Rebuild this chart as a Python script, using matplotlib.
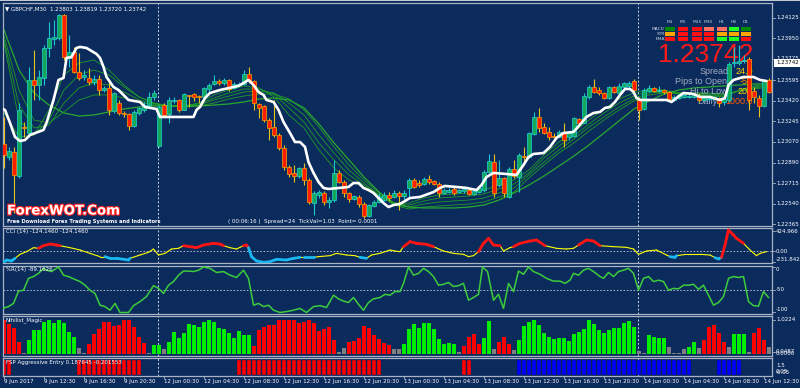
import matplotlib
matplotlib.use("Agg")
import matplotlib.pyplot as plt
import matplotlib.patheffects as pe
from matplotlib.patches import Rectangle

# ---------------- data ----------------
bar_open = [
 1.23049, 1.22938, 1.22981, 1.22776, 1.23194, 1.23143, 1.23596, 1.23553, 1.23613, 1.23869,
 1.23946, 1.23955, 1.24151, 1.23784, 1.23835, 1.23664, 1.23621, 1.23613, 1.23579, 1.23604,
 1.23510, 1.23528, 1.23331, 1.23399, 1.23314, 1.23305, 1.23203, 1.23314, 1.23340, 1.23382,
 1.23451, 1.23032, 1.23382, 1.23305, 1.23416, 1.23425, 1.23340, 1.23468, 1.23476, 1.23459,
 1.23451, 1.23519, 1.23562, 1.23587, 1.23570, 1.23596, 1.23528, 1.23553, 1.23562, 1.23647,
 1.23587, 1.23391, 1.23374, 1.23254, 1.23194, 1.23126, 1.23015, 1.22853, 1.22802, 1.22776,
 1.22844, 1.22742, 1.22545, 1.22614, 1.22631, 1.22554, 1.22571, 1.22802, 1.22725, 1.22631,
 1.22580, 1.22597, 1.22537, 1.22434, 1.22520, 1.22554, 1.22571, 1.22614, 1.22597, 1.22631,
 1.22605, 1.22674, 1.22742, 1.22716, 1.22708, 1.22750, 1.22733, 1.22708, 1.22631, 1.22639,
 1.22665, 1.22639, 1.22648, 1.22656, 1.22622, 1.22639, 1.22656, 1.22810, 1.22895, 1.22699,
 1.22759, 1.22597, 1.22836, 1.22767, 1.22947, 1.22938, 1.23135, 1.23280, 1.23194, 1.23152,
 1.23118, 1.23109, 1.23152, 1.23109, 1.23118, 1.23263, 1.23229, 1.23451, 1.23536, 1.23510,
 1.23485, 1.23442, 1.23536, 1.23485, 1.23536, 1.23545, 1.23587, 1.23425, 1.23348, 1.23502,
 1.23528, 1.23502, 1.23510, 1.23493, 1.23425, 1.23442, 1.23451, 1.23451, 1.23451, 1.23459,
 1.23425, 1.23434, 1.23434, 1.23442, 1.23408, 1.23425, 1.23741, 1.23741, 1.23758, 1.23775,
 1.23502, 1.23442, 1.23374, 1.23596]
bar_high = [
 1.23280, 1.23024, 1.23024, 1.23399, 1.23237, 1.23707, 1.23852, 1.23681, 1.23895, 1.24091,
 1.24108, 1.24159, 1.24159, 1.23980, 1.23878, 1.23826, 1.23681, 1.23698, 1.23639, 1.23639,
 1.23545, 1.23596, 1.23493, 1.23425, 1.23331, 1.23314, 1.23340, 1.23365, 1.23408, 1.23493,
 1.23510, 1.23382, 1.23399, 1.23451, 1.23451, 1.23434, 1.23485, 1.23468, 1.23485, 1.23468,
 1.23536, 1.23570, 1.23639, 1.23604, 1.23613, 1.23604, 1.23579, 1.23579, 1.23681, 1.23707,
 1.23596, 1.23399, 1.23382, 1.23271, 1.23425, 1.23143, 1.23041, 1.22870, 1.22870, 1.22853,
 1.22887, 1.22759, 1.22648, 1.22656, 1.22648, 1.22597, 1.22913, 1.22827, 1.22742, 1.22639,
 1.22614, 1.22614, 1.22554, 1.22537, 1.22571, 1.22631, 1.22639, 1.22639, 1.22656, 1.22648,
 1.22656, 1.22759, 1.22759, 1.22742, 1.22767, 1.22785, 1.22742, 1.22725, 1.22674, 1.22674,
 1.22682, 1.22665, 1.22674, 1.22674, 1.22665, 1.22691, 1.22827, 1.22964, 1.22964, 1.22913,
 1.22767, 1.22853, 1.22913, 1.22972, 1.23024, 1.23152, 1.23323, 1.23357, 1.23229, 1.23194,
 1.23143, 1.23169, 1.23229, 1.23152, 1.23280, 1.23271, 1.23485, 1.23553, 1.23604, 1.23536,
 1.23493, 1.23545, 1.23545, 1.23570, 1.23579, 1.23587, 1.23604, 1.23451, 1.23528, 1.23553,
 1.23536, 1.23545, 1.23519, 1.23502, 1.23468, 1.23476, 1.23485, 1.23476, 1.23476, 1.23485,
 1.23451, 1.23459, 1.23459, 1.23451, 1.23451, 1.23750, 1.23878, 1.23895, 1.23809, 1.23792,
 1.23536, 1.23468, 1.23596, 1.23613]
bar_low = [
 1.22844, 1.22913, 1.22460, 1.22759, 1.23109, 1.23109, 1.23425, 1.23425, 1.23553, 1.23792,
 1.23895, 1.23937, 1.23767, 1.23707, 1.23656, 1.23596, 1.23596, 1.23553, 1.23553, 1.23468,
 1.23493, 1.23297, 1.23314, 1.23297, 1.23280, 1.23169, 1.23194, 1.23297, 1.23323, 1.23365,
 1.23425, 1.23024, 1.23280, 1.23229, 1.23399, 1.23323, 1.23340, 1.23365, 1.23416, 1.23399,
 1.23442, 1.23493, 1.23553, 1.23553, 1.23553, 1.23502, 1.23519, 1.23545, 1.23553, 1.23570,
 1.23340, 1.23271, 1.23237, 1.23083, 1.23109, 1.22998, 1.22827, 1.22767, 1.22725, 1.22759,
 1.22699, 1.22537, 1.22443, 1.22588, 1.22528, 1.22503, 1.22554, 1.22716, 1.22597, 1.22554,
 1.22571, 1.22511, 1.22417, 1.22426, 1.22511, 1.22545, 1.22563, 1.22563, 1.22588, 1.22486,
 1.22571, 1.22597, 1.22674, 1.22682, 1.22699, 1.22708, 1.22699, 1.22597, 1.22622, 1.22631,
 1.22614, 1.22631, 1.22631, 1.22614, 1.22614, 1.22631, 1.22639, 1.22802, 1.22597, 1.22682,
 1.22597, 1.22588, 1.22759, 1.22639, 1.22887, 1.22930, 1.23126, 1.23152, 1.23135, 1.23083,
 1.23101, 1.23109, 1.23024, 1.23083, 1.23109, 1.23220, 1.23229, 1.23434, 1.23485, 1.23468,
 1.23434, 1.23434, 1.23485, 1.23468, 1.23528, 1.23528, 1.23493, 1.23254, 1.23340, 1.23493,
 1.23493, 1.23493, 1.23476, 1.23425, 1.23416, 1.23434, 1.23442, 1.23442, 1.23442, 1.23408,
 1.23416, 1.23416, 1.23425, 1.23365, 1.23382, 1.23408, 1.23707, 1.23724, 1.23741, 1.23340,
 1.23399, 1.23280, 1.23365, 1.23485]
bar_close = [
 1.22955, 1.22990, 1.22785, 1.23340, 1.23186, 1.23596, 1.23553, 1.23621, 1.23869, 1.23955,
 1.23963, 1.24151, 1.23792, 1.23835, 1.23664, 1.23613, 1.23639, 1.23579, 1.23604, 1.23510,
 1.23528, 1.23340, 1.23485, 1.23314, 1.23305, 1.23203, 1.23323, 1.23357, 1.23382, 1.23451,
 1.23485, 1.23365, 1.23297, 1.23425, 1.23425, 1.23340, 1.23476, 1.23459, 1.23451, 1.23451,
 1.23528, 1.23553, 1.23587, 1.23570, 1.23596, 1.23519, 1.23562, 1.23562, 1.23647, 1.23587,
 1.23399, 1.23357, 1.23254, 1.23186, 1.23126, 1.23015, 1.22853, 1.22793, 1.22776, 1.22844,
 1.22742, 1.22554, 1.22631, 1.22639, 1.22554, 1.22571, 1.22802, 1.22725, 1.22631, 1.22580,
 1.22605, 1.22537, 1.22434, 1.22528, 1.22554, 1.22597, 1.22614, 1.22588, 1.22631, 1.22605,
 1.22631, 1.22742, 1.22682, 1.22699, 1.22750, 1.22725, 1.22708, 1.22631, 1.22656, 1.22656,
 1.22631, 1.22656, 1.22665, 1.22622, 1.22648, 1.22674, 1.22810, 1.22904, 1.22631, 1.22759,
 1.22631, 1.22836, 1.22776, 1.22955, 1.22938, 1.23143, 1.23280, 1.23186, 1.23143, 1.23109,
 1.23109, 1.23152, 1.23083, 1.23143, 1.23271, 1.23229, 1.23459, 1.23536, 1.23493, 1.23485,
 1.23442, 1.23536, 1.23493, 1.23545, 1.23570, 1.23570, 1.23510, 1.23340, 1.23510, 1.23528,
 1.23502, 1.23510, 1.23493, 1.23434, 1.23451, 1.23468, 1.23468, 1.23459, 1.23468, 1.23425,
 1.23442, 1.23442, 1.23451, 1.23399, 1.23434, 1.23732, 1.23750, 1.23758, 1.23767, 1.23425,
 1.23451, 1.23374, 1.23587, 1.23493]

# white trend line (bar position, price)
trend_bar = [
 -0.8, 0.2, 1.2, 2.2, 3.2, 4.2, 5.2, 7.9, 8.5, 9.9,
 10.9, 11.9, 12.5, 13.5, 14.5, 15.2, 16.5, 18.5, 19.2, 19.9,
 20.5, 21.9, 22.9, 23.9, 24.9, 27.2, 28.2, 30.5, 31.2, 37.9,
 38.5, 39.2, 40.2, 41.2, 43.2, 45.9, 46.9, 47.9, 48.9, 49.9,
 50.9, 51.9, 52.5, 53.9, 54.9, 55.9, 57.2, 58.2, 59.2, 60.2,
 60.9, 61.9, 62.9, 63.9, 64.9, 68.9, 69.9, 70.9, 71.9, 72.9,
 73.9, 74.9, 75.9, 76.9, 77.9, 79.2, 81.2, 83.2, 85.9, 87.2,
 88.2, 90.5, 92.5, 94.5, 95.5, 96.5, 97.9, 100.5, 102.5, 103.9,
 104.9, 105.9, 107.9, 109.2, 110.5, 111.9, 113.9, 115.5, 116.5, 117.9,
 119.2, 120.2, 121.2, 122.2, 123.2, 124.2, 125.2, 125.9, 126.5, 127.2,
 132.5, 133.5, 134.5, 135.9, 137.9, 139.2, 141.2, 143.2, 144.2, 144.9,
 145.9, 147.9, 149.9, 151.2, 152.5]
trend_price = [
 1.23357, 1.23340, 1.23229, 1.23109, 1.23075, 1.23083, 1.23126, 1.23169, 1.23229, 1.23425,
 1.23596, 1.23613, 1.23784, 1.23792, 1.23869, 1.23878, 1.23869, 1.23818, 1.23784, 1.23707,
 1.23621, 1.23536, 1.23510, 1.23468, 1.23425, 1.23408, 1.23365, 1.23348, 1.23280, 1.23280,
 1.23340, 1.23365, 1.23442, 1.23485, 1.23510, 1.23536, 1.23545, 1.23570, 1.23596, 1.23553,
 1.23493, 1.23468, 1.23425, 1.23408, 1.23340, 1.23237, 1.23143, 1.23066, 1.23066, 1.23024,
 1.22895, 1.22802, 1.22725, 1.22674, 1.22665, 1.22682, 1.22716, 1.22716, 1.22674, 1.22656,
 1.22631, 1.22588, 1.22545, 1.22511, 1.22528, 1.22537, 1.22588, 1.22597, 1.22639, 1.22674,
 1.22691, 1.22682, 1.22674, 1.22656, 1.22699, 1.22767, 1.22802, 1.22793, 1.22785, 1.22870,
 1.22938, 1.22964, 1.22972, 1.23024, 1.23101, 1.23143, 1.23152, 1.23229, 1.23280, 1.23314,
 1.23323, 1.23357, 1.23365, 1.23408, 1.23468, 1.23519, 1.23519, 1.23493, 1.23442, 1.23425,
 1.23425, 1.23408, 1.23442, 1.23485, 1.23476, 1.23451, 1.23451, 1.23425, 1.23442, 1.23553,
 1.23596, 1.23621, 1.23621, 1.23596, 1.23587]

# green moving-average ribbon, sampled every 3 bars
ribbon_bar = list(range(0, 154, 3))
ribbon_1 = [
 1.23314, 1.23109, 1.23126, 1.23340, 1.23639, 1.23741, 1.23767, 1.23681, 1.23553, 1.23451,
 1.23399, 1.23374, 1.23374, 1.23399, 1.23468, 1.23510, 1.23545, 1.23528, 1.23451, 1.23297,
 1.23186, 1.22998, 1.22844, 1.22742, 1.22682, 1.22614, 1.22545, 1.22545, 1.22588, 1.22614,
 1.22622, 1.22631, 1.22656, 1.22699, 1.22742, 1.22827, 1.22955, 1.23066, 1.23152, 1.23254,
 1.23348, 1.23434, 1.23485, 1.23519, 1.23510, 1.23476, 1.23468, 1.23459, 1.23451, 1.23510,
 1.23545, 1.23562]
ribbon_2 = [
 1.23912, 1.23254, 1.23126, 1.23254, 1.23510, 1.23639, 1.23681, 1.23639, 1.23536, 1.23451,
 1.23399, 1.23374, 1.23374, 1.23391, 1.23442, 1.23485, 1.23519, 1.23519, 1.23476, 1.23357,
 1.23237, 1.23058, 1.22913, 1.22785, 1.22699, 1.22614, 1.22537, 1.22528, 1.22563, 1.22588,
 1.22597, 1.22605, 1.22622, 1.22665, 1.22708, 1.22802, 1.22930, 1.23032, 1.23118, 1.23220,
 1.23314, 1.23399, 1.23459, 1.23502, 1.23502, 1.23485, 1.23476, 1.23468, 1.23459, 1.23502,
 1.23536, 1.23553]
ribbon_3 = [
 1.23937, 1.23382, 1.23186, 1.23212, 1.23399, 1.23528, 1.23570, 1.23553, 1.23493, 1.23425,
 1.23391, 1.23374, 1.23365, 1.23382, 1.23425, 1.23459, 1.23493, 1.23502, 1.23485, 1.23399,
 1.23297, 1.23126, 1.22972, 1.22827, 1.22716, 1.22614, 1.22528, 1.22511, 1.22537, 1.22554,
 1.22563, 1.22571, 1.22588, 1.22631, 1.22674, 1.22785, 1.22895, 1.22998, 1.23092, 1.23194,
 1.23280, 1.23365, 1.23434, 1.23485, 1.23493, 1.23485, 1.23485, 1.23476, 1.23468, 1.23502,
 1.23528, 1.23545]
ribbon_4 = [
 1.23972, 1.23510, 1.23254, 1.23229, 1.23323, 1.23425, 1.23468, 1.23468, 1.23442, 1.23408,
 1.23382, 1.23374, 1.23365, 1.23374, 1.23399, 1.23434, 1.23459, 1.23476, 1.23476, 1.23434,
 1.23340, 1.23194, 1.23024, 1.22870, 1.22742, 1.22631, 1.22528, 1.22494, 1.22511, 1.22520,
 1.22528, 1.22537, 1.22554, 1.22597, 1.22639, 1.22759, 1.22870, 1.22972, 1.23058, 1.23160,
 1.23254, 1.23340, 1.23416, 1.23468, 1.23485, 1.23476, 1.23485, 1.23485, 1.23476, 1.23502,
 1.23519, 1.23536]
ribbon_slow = [
 1.24023, 1.23681, 1.23485, 1.23382, 1.23314, 1.23288, 1.23297, 1.23323, 1.23348, 1.23365,
 1.23374, 1.23374, 1.23374, 1.23374, 1.23382, 1.23391, 1.23408, 1.23434, 1.23442, 1.23425,
 1.23357, 1.23220, 1.23058, 1.22913, 1.22767, 1.22639, 1.22545, 1.22511, 1.22503, 1.22503,
 1.22503, 1.22511, 1.22528, 1.22571, 1.22631, 1.22699, 1.22776, 1.22861, 1.22947, 1.23041,
 1.23143, 1.23246, 1.23348, 1.23416, 1.23476, 1.23510, 1.23528, 1.23536, 1.23545, 1.23553,
 1.23562, 1.23562]

# CCI(14): sampled points and colour state (1 above, 0 neutral, -1 below)
cci_bar = [
 -0.3, 0.5, 1.5, 2.2, 3.2, 4.5, 5.9, 6.9, 7.9, 9.2,
 10.5, 11.2, 13.2, 15.2, 17.2, 19.2, 20.2, 21.2, 22.5, 24.9,
 25.2, 27.2, 28.9, 29.9, 30.9, 32.2, 33.5, 34.9, 35.9, 37.2,
 38.5, 39.9, 41.9, 43.2, 43.9, 45.2, 46.5, 47.9, 48.5, 48.9,
 49.5, 50.5, 51.9, 53.2, 54.5, 56.5, 57.9, 59.2, 59.9, 61.9,
 62.9, 65.2, 66.5, 68.5, 70.2, 71.2, 72.5, 73.5, 75.2, 77.2,
 78.2, 79.2, 79.9, 81.2, 82.5, 84.5, 85.9, 87.9, 89.9, 91.9,
 92.9, 93.9, 94.9, 95.9, 96.9, 97.9, 99.2, 99.9, 101.2, 101.9,
 103.2, 105.2, 106.5, 108.2, 110.5, 112.5, 113.9, 114.9, 116.5, 117.9,
 119.2, 121.9, 124.5, 125.9, 126.9, 128.5, 130.5, 132.5, 133.2, 134.2,
 134.5, 136.5, 139.2, 141.2, 142.2, 142.9, 143.5, 144.2, 144.9, 145.9,
 146.5, 147.9, 149.2, 150.5, 151.2, 152.5]
cci_val = [
 -262, -191, -212, -156, -71, -14, 71, 57, 113, 149,
 127, 113, 71, 21, -50, -120, -120, -156, -156, -191,
 -156, -85, -28, 42, -85, -50, 42, 57, 113, 92,
 71, 127, 163, 149, 113, 71, 42, 113, 127, 71,
 -120, -212, -241, -227, -177, -191, -156, -135, -135, -135,
 -120, -99, -50, -85, -99, -135, -156, -85, -50, 21,
 0, -14, 92, 198, 163, 142, 92, 0, -50, -71,
 -120, -99, -14, 163, 269, 127, 113, 0, 71, 92,
 163, 212, 234, 113, 57, 42, 57, 127, 234, 212,
 113, 92, 78, 42, -71, 0, 21, -85, -120, -135,
 -99, -71, -71, -85, -142, -170, -135, 127, 446, 340,
 269, 163, 21, -99, -50, -14]
cci_state = [
 -1, -1, -1, 0, 0, 0, 0, 1, 1, 1,
 1, 0, 0, 0, 0, 0, -1, -1, -1, -1,
 0, 0, 0, 0, 0, 0, 0, 0, 1, 1,
 1, 1, 1, 1, 0, 0, 0, 1, 1, -1,
 -1, -1, -1, -1, -1, -1, -1, 0, -1, 0,
 0, 0, 0, 0, 0, -1, 0, 0, 0, 0,
 0, 0, 1, 1, 1, 1, 0, 0, 0, 0,
 0, 0, 1, 1, 1, 1, 0, 0, 0, 1,
 1, 1, 1, 0, 0, 0, 0, 1, 1, 1,
 0, 0, 0, 0, 0, 0, 0, 0, -1, -1,
 0, 0, 0, 0, -1, -1, 1, 1, 1, 1,
 1, 0, 0, 0, 0, 0]

# Williams %R(14)
wpr_bar = [
 -0.3, 0.9, 1.9, 2.9, 3.9, 4.9, 5.9, 6.9, 7.9, 8.5,
 9.5, 10.9, 11.9, 12.9, 13.9, 15.2, 16.2, 17.2, 18.2, 19.2,
 20.2, 21.2, 22.2, 23.2, 24.9, 25.9, 27.2, 28.5, 29.9, 30.9,
 31.9, 32.9, 33.9, 34.9, 35.9, 36.9, 37.9, 38.9, 39.9, 41.2,
 42.5, 43.9, 45.2, 46.5, 47.9, 48.9, 49.9, 50.9, 51.9, 52.9,
 53.9, 55.2, 56.5, 57.9, 59.2, 60.5, 61.9, 63.2, 64.5, 65.9,
 66.9, 67.9, 68.9, 69.9, 70.9, 71.9, 72.9, 73.9, 75.2, 76.2,
 77.2, 78.2, 79.2, 79.9, 80.9, 81.9, 82.9, 83.9, 84.9, 85.9,
 86.9, 87.9, 88.9, 89.9, 90.9, 91.9, 92.9, 93.9, 94.9, 95.7,
 96.7, 97.9, 98.9, 99.9, 100.9, 101.9, 102.9, 103.9, 104.9, 105.9,
 107.2, 108.5, 109.9, 111.2, 112.2, 113.2, 113.9, 114.9, 115.9, 116.9,
 117.9, 119.2, 119.9, 120.9, 121.9, 122.9, 123.9, 124.9, 125.9, 126.9,
 127.9, 128.9, 129.9, 130.9, 131.9, 132.9, 133.9, 134.9, 135.9, 136.9,
 137.9, 138.9, 139.9, 141.9, 142.9, 143.9, 144.9, 145.9, 146.9, 147.9,
 148.9, 149.9, 150.9, 151.9, 152.9]
wpr_val = [
 -91, -87, -80, -53, -51, -25, -21, -14, -3, -7,
 -10, 0, -18, -21, -26, -32, -40, -51, -58, -84,
 -87, -95, -80, -100, -100, -85, -76, -65, -41, -47,
 -58, -40, -32, -18, -9, -9, -10, -7, 0, -3,
 -12, -10, -18, -23, -7, -25, -84, -80, -87, -84,
 -95, -100, -98, -95, -91, -100, -87, -85, -89, -62,
 -70, -75, -78, -67, -82, -95, -78, -70, -67, -60,
 -62, -54, -54, -36, 0, -18, -14, -3, -10, -21,
 -40, -38, -34, -43, -41, -36, -73, -67, -60, 0,
 -10, -73, -60, -91, -36, -54, -9, -16, 0, -10,
 -16, -25, -31, -31, -36, -29, -14, -18, -7, -3,
 -10, -21, -25, -12, -21, -10, -7, -3, -14, -51,
 -25, -21, -32, -29, -32, -51, -47, -48, -40, -40,
 -38, -49, -40, -84, -78, -65, -25, -21, -23, -21,
 -76, -85, -86, -54, -67]

# Nihilist_Magic histogram (value per bar, state 1 up / -1 down / 0 flat)
nih_val = [
 1.01, 0.88, 0.76, 0.36, 0.03, 0.41, 0.71, 0.70, 0.94, 1.01,
 0.91, 1.01, 0.91, 0.66, 0.51, 0.16, 0.01, 0.29, 0.58, 0.74,
 0.94, 0.96, 0.83, 0.86, 1.02, 1.01, 0.81, 0.51, 0.31, 0.03,
 0.26, 0.26, 0.13, 0.36, 0.64, 0.48, 0.61, 0.90, 0.86, 0.81,
 0.96, 1.02, 0.96, 0.76, 0.74, 0.61, 0.46, 0.68, 0.56, 0.56,
 0.24, 0.70, 0.81, 0.86, 0.86, 1.01, 1.02, 1.02, 1.02, 0.91,
 0.94, 1.02, 0.91, 0.68, 0.74, 0.81, 0.41, 0.06, 0.16, 0.36,
 0.38, 0.48, 0.84, 0.78, 0.56, 0.43, 0.31, 0.26, 0.14, 0.14,
 0.28, 0.73, 0.90, 0.76, 0.93, 0.93, 0.73, 0.43, 0.28, 0.33,
 0.28, 0.04, 0.24, 0.49, 0.58, 0.29, 0.46, 0.98, 0.14, 0.34,
 0.49, 0.29, 0.11, 0.41, 0.84, 0.94, 1.02, 0.86, 0.61, 0.51,
 0.44, 0.48, 0.46, 0.38, 0.58, 0.64, 0.74, 1.01, 0.90, 0.70,
 0.61, 0.70, 0.76, 0.78, 0.91, 0.98, 0.81, 0.08, 0.03, 0.56,
 0.51, 0.48, 0.46, 0.21, 0.03, 0.03, 0.14, 0.21, 0.36, 0.18,
 0.41, 0.80, 0.85, 0.62, 0.35, 0.20, 0.60, 0.60, 0.60, 0.05,
 0.63, 0.76, 0.41, 0.20]
nih_state = [
 -1, -1, -1, -1, 0, 1, 1, 1, 1, 1,
 1, 1, 1, 1, 1, 0, 0, -1, -1, -1,
 -1, -1, -1, -1, -1, -1, -1, -1, -1, 0,
 1, 1, 0, 1, 1, 1, 1, 1, 1, 1,
 1, 1, 1, 1, 1, 1, 1, 1, 1, 1,
 -1, -1, -1, -1, -1, -1, -1, -1, -1, -1,
 -1, -1, -1, -1, -1, -1, -1, 0, 0, -1,
 -1, -1, -1, -1, -1, -1, -1, -1, 0, 0,
 1, 1, 1, 1, 1, 1, 1, 1, 1, 1,
 1, 0, -1, -1, -1, -1, 1, 1, 0, -1,
 -1, -1, 0, 1, 1, 1, 1, 1, 1, 1,
 1, 1, 1, 1, 1, 1, 1, 1, 1, 1,
 1, 1, 1, 1, 1, 1, 1, 0, 0, 1,
 1, 1, 1, 0, 0, 0, 0, 1, 1, 0,
 -1, -1, -1, -1, -1, 0, 1, 1, 1, 0,
 -1, -1, -1, 0]

# FSP Aggressive Entry signal per bar (1 sell/red, 2 buy/blue, 0 none)
fsp_state = [
 1, 1, 0, 0, 0, 0, 0, 0, 0, 0,
 0, 0, 0, 0, 0, 1, 1, 1, 1, 1,
 1, 1, 1, 1, 1, 1, 1, 1, 0, 0,
 0, 0, 0, 0, 0, 0, 0, 0, 0, 0,
 0, 0, 0, 0, 0, 0, 0, 1, 1, 1,
 1, 1, 1, 1, 1, 1, 1, 1, 1, 1,
 1, 1, 1, 1, 1, 1, 1, 1, 1, 1,
 1, 1, 1, 1, 1, 1, 0, 0, 0, 0,
 0, 0, 0, 0, 0, 0, 0, 0, 0, 0,
 0, 0, 1, 1, 0, 0, 0, 0, 0, 0,
 0, 0, 0, 2, 2, 2, 2, 2, 2, 2,
 2, 2, 2, 2, 2, 2, 2, 2, 2, 2,
 2, 2, 2, 2, 2, 2, 2, 2, 2, 2,
 2, 2, 2, 2, 2, 2, 2, 2, 0, 0,
 0, 0, 0, 2, 2, 2, 2, 2, 0, 0,
 0, 0, 0, 0]

time_label_bars = [0, 8, 16, 24, 32, 40, 48, 56, 64, 72, 80, 88, 96, 104, 112, 120, 128, 136, 144, 152]
time_labels = ["9 Jun 2017", "9 Jun 12:30", "9 Jun 16:30", "9 Jun 20:30", "12 Jun 00:30",
               "12 Jun 04:30", "12 Jun 08:30", "12 Jun 12:30", "12 Jun 16:30", "12 Jun 20:30",
               "13 Jun 00:30", "13 Jun 04:30", "13 Jun 08:30", "13 Jun 12:30", "13 Jun 16:30",
               "13 Jun 20:30", "14 Jun 00:30", "14 Jun 04:30", "14 Jun 08:30", "14 Jun 12:30"]
separator_bars = [31, 127]
price_ticks = [1.24125, 1.23950, 1.23775, 1.23595, 1.23420, 1.23245, 1.23070,
               1.22890, 1.22715, 1.22540, 1.22365]
last_price = 1.23742

dash_cols = ["M1", "M5", "M15", "M30", "H1", "H4", "D1"]
dash_rows = ["MACD", "STR", "EMA"]
dash_signal = [
    ["up", "dn", "dn", "wdn", "wdn", "sup", "up"],
    ["flat", "dn", "dn", "dn", "flat", "flat", "flat"],
    ["dn", "dn", "dn", "dn", "sup", "sup", "dn"],
]
info_labels = ["Spread", "Pips to Open", "Hi to Low", "Daily"]
info_values = ["24.0", "-57", "208", "1000.0"]

# ---------------- drawing ----------------
W, H = 800, 388
BG = "#0b2b5d"
FRAME = "#a9b3c3"
fig = plt.figure(figsize=(W / 100, H / 100), dpi=100)
fig.patch.set_facecolor(BG)
X0, X1 = 3, 772
n = len(bar_open)


def fx(x):
    return x / W


def fy(y):
    return 1 - y / H


def panel(top, bottom):
    ax = fig.add_axes([fx(X0), fy(bottom), (X1 - X0) / W, (bottom - top) / H])
    ax.set_facecolor(BG)
    for s in ax.spines.values():
        s.set_color(FRAME)
        s.set_linewidth(0.9)
    ax.set_xlim(-0.2, 153.6)
    ax.set_xticks([])
    ax.set_yticks([])
    for b in separator_bars:
        ax.axvline(b - 0.2, color="#d0d8e6", lw=0.7, ls=(0, (2, 2)), zorder=0.5)
    return ax


def rlabel(ax, y, s, va="center", tick=True, **kw):
    tr = ax.get_yaxis_transform()
    ax.text(1.005, y, s, transform=tr, ha="left", va=va, fontsize=4,
            color=kw.pop("color", "white"), clip_on=False, **kw)
    if tick:
        ax.plot([1.0, 1.004], [y, y], transform=tr, color=FRAME, lw=0.6, clip_on=False)


# top light strip
fig.add_artist(Rectangle((0, fy(1.2)), 1, 1.2 / H, transform=fig.transFigure,
                         fc="#c4cad4", ec="none"))

# ---- main price panel ----
ax = panel(3, 226)
ax.set_ylim(1.22349, 1.24253)

rib_c = "#1f9c26"
for rb in (ribbon_1, ribbon_2, ribbon_3, ribbon_4):
    ax.plot(ribbon_bar, rb, color=rib_c, lw=0.6, zorder=1)
ax.plot(ribbon_bar, ribbon_slow, color="#2aa82e", lw=0.9, zorder=1)

xs = list(range(n))
bull = [c >= o for o, c in zip(bar_open, bar_close)]
wick_col = ["#1ec8d2" if b else "#e6c41c" for b in bull]
ax.vlines(xs, bar_low, bar_high, colors=wick_col, lw=0.8, zorder=3)
bottoms = [min(o, c) for o, c in zip(bar_open, bar_close)]
heights = [max(abs(c - o), 0.00007) for o, c in zip(bar_open, bar_close)]
face = ["#13a85a" if b else "#ff1c00" for b in bull]
edge = ["#22d4d4" if b else "#ffa000" for b in bull]
ax.bar(xs, heights, bottom=bottoms, width=0.64, color=face, edgecolor=edge,
       linewidth=0.5, zorder=4)

ax.plot(trend_bar, trend_price, color="white", lw=1.9, zorder=5,
        solid_joinstyle="round", solid_capstyle="round")

for p in price_ticks:
    rlabel(ax, p, "%.5f" % p)
rlabel(ax, last_price, "%.5f" % last_price, tick=False, color="black",
       bbox=dict(boxstyle="square,pad=0.25", fc="white", ec="none"))

# big price and info block (behind candles)
ax.text(fx(658), fy(55), "%.5f" % last_price, transform=fig.transFigure, fontsize=19,
        color="#ff1a1a", family="Liberation Sans", ha="left", va="center", zorder=2)
info_x = [700, 675, 690, 697]
info_y = [72, 82, 91.5, 101]
info_vcol = ["#ffd200", "#ff8c00", "#ffd200", "#ff5a00"]
for lab, val, lx, ly, vc in zip(info_labels, info_values, info_x, info_y, info_vcol):
    ax.text(fx(lx), fy(ly), lab, transform=fig.transFigure, fontsize=6.5,
            color="#a3abbf", family="Liberation Sans", ha="left", va="center", zorder=2)
    ax.text(fx(753), fy(ly), val, transform=fig.transFigure, fontsize=6.5,
            color=vc, family="Liberation Sans", ha="right", va="center", zorder=2)

# dashboard
sig_col = {"up": "#008c00", "dn": "#ff1010", "wdn": "#ff7060", "sup": "#22ff22",
           "flat": "#ffa500"}
col_x = [670, 683, 697, 708.5, 722, 733.5, 746]
row_y = [29, 34, 39]
for cx, name in zip(col_x, dash_cols):
    fig.text(fx(cx), fy(22), name, fontsize=3.2, color="#c8d0e0", ha="center", va="center")
for ry, rname, sigs in zip(row_y, dash_rows, dash_signal):
    fig.text(fx(665), fy(ry), rname, fontsize=3.2, color="#c8d0e0", ha="right", va="center")
    for cx, sg in zip(col_x, sigs):
        fig.add_artist(Rectangle((fx(cx - 5), fy(ry + 1.6)), 10 / W, 3.2 / H,
                                 transform=fig.transFigure, fc=sig_col[sg], ec="none"))

fig.text(fx(5), fy(8.3), "\u25bc GBPCHF,M30  1.23803 1.23819 1.23720 1.23742",
         fontsize=4, color="white", ha="left", va="center")
fig.text(fx(7), fy(211), "ForexWOT.Com", fontsize=9.6, weight="bold", color="white",
         ha="left", va="center",
         path_effects=[pe.withStroke(linewidth=1.6, foreground="#ff2020")])
fig.text(fx(7), fy(222), "Free Download Forex Trading Systems and Indicators",
         fontsize=3.7, weight="bold", color="white", ha="left", va="center")
fig.text(fx(228), fy(221.5), "( 00:06:16 )  Spread=24  TickVal=1.03  Point= 0.0001",
         fontsize=4, color="white", ha="left", va="center")

# ---- CCI panel ----
axc = panel(228, 263)
axc.set_ylim(-255, 489)
axc.axhline(0, color="#c0c8d6", lw=0.6, ls=(0, (2, 2)), zorder=1)
cci_col = {1: "#ff1414", 0: "#ffff00", -1: "#1ab8f0"}
for k in range(len(cci_bar) - 1):
    st = cci_state[k]
    axc.plot(cci_bar[k:k + 2], cci_val[k:k + 2], color=cci_col[st],
             lw=0.8 if st == 0 else 2.0, solid_capstyle="round", zorder=3 if st else 2)
rlabel(axc, 424.966, "424.966")
rlabel(axc, 0, "0.00")
rlabel(axc, -231.8426, "-231.8426", va="bottom")
fig.text(fx(6), fy(231.5), "CCI (14) -124.1460 -124.1460", fontsize=4, color="white",
         ha="left", va="center")

# ---- %R panel ----
axr = panel(266, 314)
axr.set_ylim(-103.3, 2.2)
axr.axhline(-50, color="#c0c8d6", lw=0.6, ls=(0, (2, 2)), zorder=1)
axr.plot(wpr_bar, wpr_val, color="#3ccc3c", lw=1.1, zorder=3)
rlabel(axr, 0, "0", va="top")
rlabel(axr, -50, "-50")
rlabel(axr, -100, "-100", va="bottom")
fig.text(fx(6), fy(270), "%R(14) -89.1626", fontsize=4, color="white",
         ha="left", va="center")

# ---- Nihilist panel ----
axn = panel(316, 356)
axn.set_ylim(-0.075, 1.13)
nih_col = {1: "#00ee00", -1: "#ff0000", 0: "#808080"}
axn.bar(xs, nih_val, width=0.78, color=[nih_col[s] for s in nih_state], linewidth=0,
        zorder=2)
rlabel(axn, 1.0224, "1.0224")
rlabel(axn, 0.0487, "0.0487")
rlabel(axn, 0.0, "0.0000", tick=False)
fig.text(fx(6), fy(320), "Nihilist_Magic", fontsize=4, color="white", ha="left",
         va="center")

# ---- FSP panel ----
axf = panel(358, 376)
axf.set_ylim(-0.05, 1.15)
fsp_col = {1: "#ff0000", 2: "#0000ff"}
fx_b = [i for i, s in enumerate(fsp_state) if s]
axf.bar(fx_b, [1] * len(fx_b), width=0.8, color=[fsp_col[fsp_state[i]] for i in fx_b],
        edgecolor="#101850", linewidth=0.3, zorder=2)
trf = axf.transAxes
for yy, s in [(0.58, "1.5"), (0.24, "0.05"), (0.18, "-0.05")]:
    axf.text(1.005, yy, s, transform=trf, fontsize=4, color="white", ha="left",
             va="center", clip_on=False)
fig.text(fx(6), fy(362.5), "FSP Aggressive Entry 0.187645 -0.201553", fontsize=4,
         color="white", ha="left", va="center", zorder=10)

axf.set_xticks(time_label_bars)
axf.set_xticklabels(time_labels, fontsize=4, color="white")
for lbl in axf.get_xticklabels():
    lbl.set_ha("left")
axf.tick_params(axis="x", length=1.8, width=0.6, color=FRAME, pad=0.6, direction="out")

fig.savefig("out.png", dpi=100, facecolor=BG)
